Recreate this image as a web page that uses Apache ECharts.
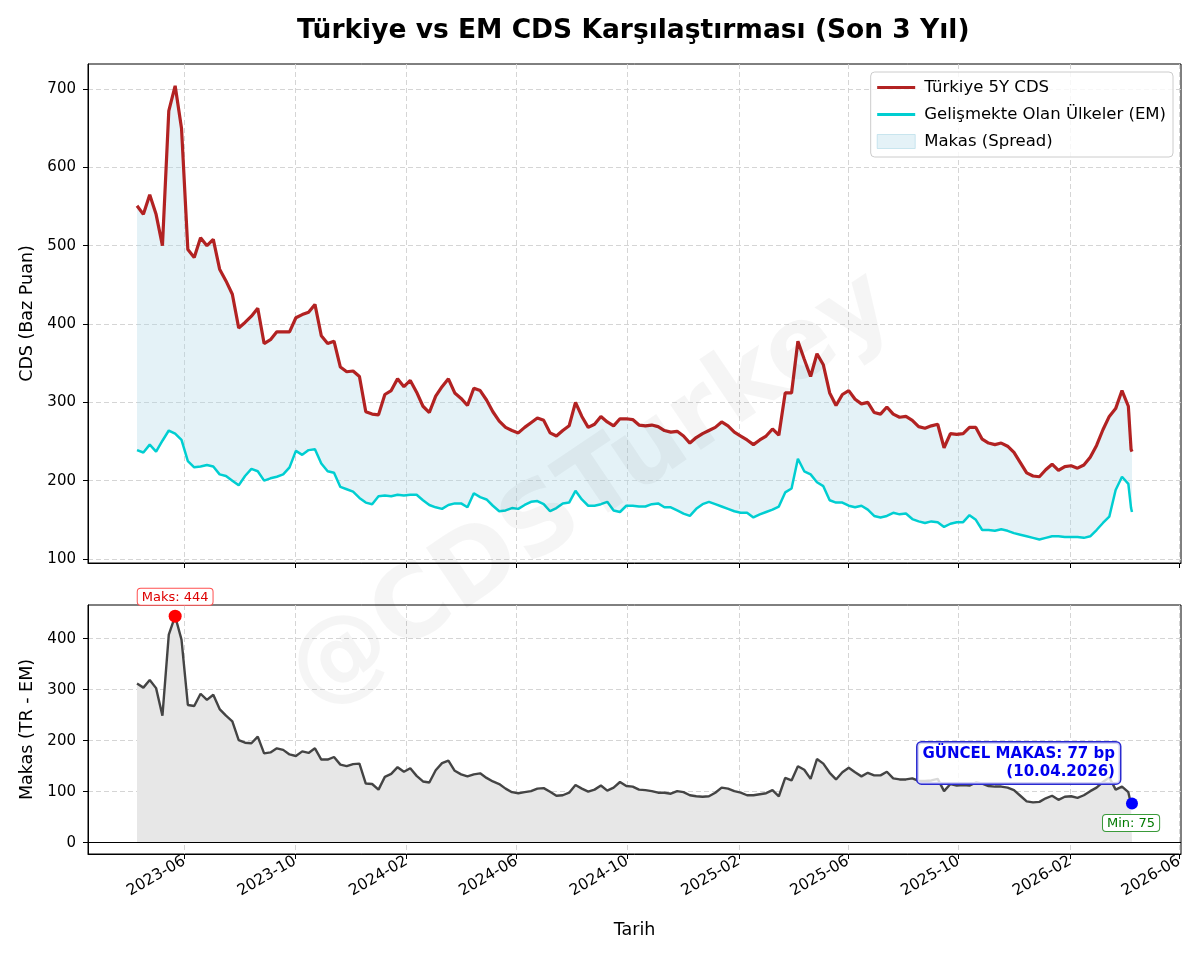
<!DOCTYPE html>
<html>
<head>
<meta charset="utf-8">
<script src="https://cdn.jsdelivr.net/npm/echarts@6/dist/echarts.min.js"></script>
<style>
  html, body { margin: 0; background: #fff; }
  #chart { width: 1200px; height: 960px; }
</style>
</head>
<body>
<div id="chart"></div>
<script>
// weekly readings from 2023-04-10 (Mondays), then the last two days
const START_DATE = '2023-04-10';
const EXTRA_DATES = ['2026-04-09', '2026-04-10'];

const TR_CDS = [
  551, 540, 565, 540, 500, 672, 704, 650, 495, 485,
  510, 500, 508, 470, 455, 438, 395, 402, 410, 420,
  375, 380, 390, 390, 390, 408, 412, 415, 425, 385,
  375, 378, 345, 339, 340, 333, 288, 285, 284, 310,
  315, 330, 320, 328, 313, 295, 287, 308, 320, 330,
  312, 305, 296, 318, 315, 303, 288, 276, 268, 264,
  261, 268, 274, 280, 277, 261, 257, 264, 270, 300,
  282, 268, 272, 282, 275, 270, 279, 279, 278, 271,
  270, 271, 269, 264, 262, 263, 257, 248, 255, 260,
  264, 268, 275, 270, 262, 257, 252, 246, 252, 257,
  266, 258, 312, 312, 378, 355, 333, 362, 348, 312,
  296, 310, 315, 304, 298, 300, 287, 285, 294, 285,
  281, 282, 277, 269, 267, 270, 272, 242, 260, 259,
  260, 268, 268, 253, 248, 246, 248, 244, 236, 223,
  210, 206, 205, 214, 221, 213, 218, 219, 216, 220,
  230, 245, 265, 282, 292, 315, 295,
  240, 237
];

const EM_CDS = [
  239, 236, 246, 237, 251, 264, 260, 252, 225, 217,
  218, 220, 218, 208, 206, 200, 194, 206, 215, 212,
  200, 203, 205, 208, 217, 238, 233, 239, 240, 222,
  212, 210, 192, 189, 186, 178, 172, 170, 180, 181,
  180, 182, 181, 182, 182, 175, 169, 166, 164, 169,
  171, 171, 166, 184, 179, 176, 168, 161, 162, 165,
  164, 169, 173, 174, 170, 161, 165, 171, 172, 187,
  176, 168, 168, 170, 173, 162, 160, 168, 168, 167,
  167, 170, 171, 166, 166, 162, 158, 155, 164, 170,
  173, 170, 167, 164, 161, 159, 159, 153, 157, 160,
  163, 167, 185, 190, 228, 212, 208, 198, 193, 175,
  172, 172, 168, 166, 168, 163, 155, 153, 155, 159,
  157, 158, 151, 148, 146, 148, 147, 141, 145, 147,
  147, 156, 150, 137, 137, 136, 138, 136, 133, 131,
  129, 127, 125, 127, 129, 129, 128, 128, 128, 127,
  129, 137, 146, 154, 188, 205, 196,
  165, 160
];

const X_TICKS = ['2023-06', '2023-10', '2024-02', '2024-06', '2024-10',
                 '2025-02', '2025-06', '2025-10', '2026-02', '2026-06'];
const Y_TICKS_TOP = [100, 200, 300, 400, 500, 600, 700];
const Y_TICKS_BOTTOM = [0, 100, 200, 300, 400];

const pad = (n) => String(n).padStart(2, '0');
const toTs = (s) => {
  const [y, m, d] = s.split('-').map(Number);
  return new Date(y, m - 1, d || 1).getTime();
};

// x values as timestamps on a plain value axis
const dates = [];
const t0 = new Date(toTs(START_DATE));
const weeks = TR_CDS.length - EXTRA_DATES.length;
for (let i = 0; i < weeks; i++) {
  dates.push(new Date(t0.getFullYear(), t0.getMonth(), t0.getDate() + 7 * i).getTime());
}
EXTRA_DATES.forEach((d) => dates.push(toTs(d)));

const spread = TR_CDS.map((v, i) => v - EM_CDS[i]);
const trData = dates.map((d, i) => [d, TR_CDS[i]]);
const emData = dates.map((d, i) => [d, EM_CDS[i]]);
const spreadData = dates.map((d, i) => [d, spread[i]]);

const xTickValues = X_TICKS.map(toTs);
const fmtMonth = (v) => {
  const d = new Date(v);
  return d.getFullYear() + '-' + pad(d.getMonth() + 1);
};

const lastIdx = dates.length - 1;
const lastDate = dates[lastIdx];
const lastSpread = spread[lastIdx];
const ld = new Date(lastDate);
const lastLabel = pad(ld.getDate()) + '.' + pad(ld.getMonth() + 1) + '.' + ld.getFullYear();

const FONT = 'DejaVu Sans';
const GRID_LINE = { show: true, lineStyle: { color: '#d0d0d0', type: [5, 3], width: 0.9 } };
const bandFill = 'rgba(173, 216, 230, 0.33)';
// thin line icon for legend (dummy points keep the box 42x14)
const LINE_ICON = 'path://M0,0L0.01,0ZM42,14L41.99,14ZM0,5.6L38,5.6L38,8.4L0,8.4Z';

const chart = echarts.init(document.getElementById('chart'));

const xAxisBase = (gridIndex, showLabel) => ({
  type: 'value',
  gridIndex,
  min: toTs('2023-02-15'),
  max: toTs('2026-06-03'),
  axisLine: { show: true, onZero: false, lineStyle: { color: '#000', width: 1 } },
  axisTick: { show: true, length: 5, customValues: xTickValues, lineStyle: { color: '#000' } },
  axisLabel: {
    show: showLabel,
    customValues: xTickValues,
    formatter: fmtMonth,
    rotate: 30,
    margin: 6,
    fontSize: 15.5,
    color: '#000',
    fontFamily: FONT,
  },
  splitLine: GRID_LINE,
});

const yAxisBase = (gridIndex, min, max, ticks, name) => ({
  type: 'value',
  gridIndex,
  min,
  max,
  name,
  nameLocation: 'middle',
  nameGap: 50,
  nameTextStyle: { fontSize: 17.5, color: '#000', fontFamily: FONT },
  axisLine: { show: true, lineStyle: { color: '#000', width: 1 } },
  axisTick: { show: true, length: 5, customValues: ticks, lineStyle: { color: '#000' } },
  axisLabel: { customValues: ticks, fontSize: 15, color: '#000', margin: 12, fontFamily: FONT },
  splitLine: GRID_LINE,
});

const option = {
  animation: false,
  backgroundColor: '#fff',
  textStyle: { fontFamily: FONT },
  title: {
    text: 'Türkiye vs EM CDS Karşılaştırması (Son 3 Yıl)',
    left: 297,
    top: 18,
    padding: 0,
    textStyle: { fontSize: 26.5, fontWeight: 'bold', color: '#000', fontFamily: FONT },
  },
  legend: {
    orient: 'vertical',
    right: 27,
    top: 72,
    align: 'left',
    itemWidth: 42,
    itemHeight: 14,
    itemGap: 10,
    padding: [7, 7, 7, 6],
    backgroundColor: 'rgba(255,255,255,0.8)',
    borderColor: '#cccccc',
    borderWidth: 1,
    borderRadius: 4,
    textStyle: { fontSize: 16.5, color: '#000', fontFamily: FONT },
    data: [
      { name: 'Türkiye 5Y CDS', icon: LINE_ICON, itemStyle: { color: '#B22222' } },
      { name: 'Gelişmekte Olan Ülkeler (EM)', icon: LINE_ICON, itemStyle: { color: '#00CED1' } },
      {
        name: 'Makas (Spread)',
        icon: 'path://M0,0L38,0L38,14L0,14ZM42,14L41.99,14Z',
        itemStyle: { color: bandFill, borderColor: 'rgba(173, 216, 230, 0.6)', borderWidth: 1 },
      },
    ],
  },
  graphic: [{
    type: 'text',
    x: 592,
    y: 492,
    rotation: 34 * Math.PI / 180,
    silent: true,
    z: 100,
    style: {
      text: '@CDSTurkey',
      fontSize: 100,
      fontWeight: 'bold',
      fontFamily: FONT,
      fill: 'rgba(0,0,0,0.04)',
      align: 'center',
      verticalAlign: 'middle',
    },
  }],
  grid: [
    { left: 88, right: 19, top: 64, height: 499, show: true, borderColor: '#000', borderWidth: 1 },
    { left: 88, right: 19, top: 605, height: 249, show: true, borderColor: '#000', borderWidth: 1 },
  ],
  xAxis: [
    xAxisBase(0, false),
    Object.assign(xAxisBase(1, true), {
      name: 'Tarih',
      nameLocation: 'middle',
      nameGap: 67,
      nameTextStyle: { fontSize: 17.5, color: '#000', fontFamily: FONT },
    }),
  ],
  yAxis: [
    yAxisBase(0, 94.9, 731.9, Y_TICKS_TOP, 'CDS (Baz Puan)'),
    yAxisBase(1, -22.2, 466, Y_TICKS_BOTTOM, 'Makas (TR - EM)'),
  ],
  series: [
    {
      // filled band between the two curves
      name: 'Makas (Spread)',
      type: 'custom',
      xAxisIndex: 0,
      yAxisIndex: 0,
      data: [trData[0]],
      encode: { x: 0, y: 1 },
      silent: true,
      itemStyle: { color: bandFill },
      z: 1,
      renderItem: (params, api) => {
        const upper = trData.map((p) => api.coord(p));
        const lower = emData.map((p) => api.coord(p)).reverse();
        return {
          type: 'polygon',
          shape: { points: upper.concat(lower) },
          style: { fill: bandFill },
        };
      },
    },
    {
      name: 'Gelişmekte Olan Ülkeler (EM)',
      type: 'line',
      data: emData,
      symbol: 'none',
      itemStyle: { color: '#00CED1' },
      lineStyle: { color: '#00CED1', width: 2.5 },
      z: 3,
    },
    {
      name: 'Türkiye 5Y CDS',
      type: 'line',
      data: trData,
      symbol: 'none',
      itemStyle: { color: '#B22222' },
      lineStyle: { color: '#B22222', width: 3.2 },
      z: 4,
    },
    {
      name: 'Makas',
      type: 'line',
      xAxisIndex: 1,
      yAxisIndex: 1,
      data: spreadData,
      symbol: 'none',
      itemStyle: { color: '#444444' },
      lineStyle: { color: '#444444', width: 2.4 },
      areaStyle: { color: '#e7e7e7', opacity: 1 },
      z: 3,
      markLine: {
        silent: true,
        symbol: 'none',
        label: { show: false },
        lineStyle: { color: '#000', width: 1.2, type: 'solid' },
        data: [{ yAxis: 0 }],
      },
      markPoint: {
        silent: true,
        data: [
          {
            type: 'max',
            symbol: 'circle',
            symbolSize: 13,
            itemStyle: { color: '#ff0000' },
            label: {
              show: true,
              position: 'top',
              distance: 5,
              formatter: (p) => 'Maks: ' + Math.round(p.value),
              fontSize: 13,
              color: '#dd0000',
              backgroundColor: '#fff',
              borderColor: '#ff5050',
              borderWidth: 1,
              borderRadius: 3,
              padding: [2, 4, 1, 4],
            },
          },
          {
            type: 'min',
            symbol: 'circle',
            symbolSize: 1,
            itemStyle: { color: 'rgba(0,0,0,0)' },
            label: {
              show: true,
              position: 'bottom',
              distance: 10,
              formatter: (p) => 'Min: ' + Math.round(p.value),
              fontSize: 13,
              color: '#007a00',
              backgroundColor: '#fff',
              borderColor: '#3a9a3a',
              borderWidth: 1,
              borderRadius: 3,
              padding: [2, 4, 1, 4],
            },
          },
          {
            coord: [lastDate, lastSpread],
            value: lastSpread,
            symbol: 'circle',
            symbolSize: 12,
            itemStyle: { color: '#0000ff' },
            label: {
              show: true,
              position: [-6, -14],
              align: 'right',
              verticalAlign: 'bottom',
              formatter: 'GÜNCEL MAKAS: ' + lastSpread + ' bp\n(' + lastLabel + ')',
              fontSize: 15,
              fontWeight: 'bold',
              lineHeight: 18,
              color: '#0000ee',
              backgroundColor: 'rgba(255,255,255,0.8)',
              borderColor: '#2a2ad0',
              borderWidth: 1.5,
              borderRadius: 4,
              padding: [3, 5, 2, 5],
            },
          },
        ],
      },
    },
  ],
};

chart.setOption(option);
</script>
</body>
</html>
